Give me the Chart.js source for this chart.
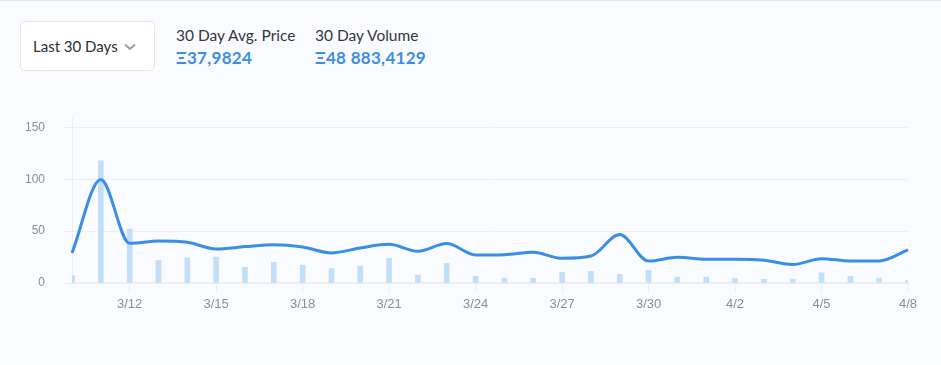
<!DOCTYPE html>
<html>
<head>
<meta charset="utf-8">
<script src="https://cdn.jsdelivr.net/npm/chart.js@4"></script>
<style>
  html, body { margin: 0; padding: 0; }
  body {
    width: 941px; height: 365px; overflow: hidden; position: relative;
    background: #fafbfe; font-family: Lato, "Open Sans", sans-serif;
    border-top: 1px solid #e3e5e9; box-sizing: border-box;
  }
  .range {
    position: absolute; left: 20px; top: 20px; width: 135px; height: 50px;
    background: #fff; border: 1px solid #e3e6ea; border-radius: 5px;
    font-size: 15px; color: #2b2f36; box-sizing: border-box;
  }
  .range span { position: absolute; left: 12px; top: 15px; }
  .range svg { position: absolute; left: 103px; top: 21px; }
  .stat { position: absolute; top: 25px; }
  .stat .lbl { font-size: 15.5px; color: #33363c; }
  .stat .val { font-size: 17px; font-weight: 700; color: #3b8ee6; margin-top: 3px; letter-spacing: 0.3px; }
  #wrap { position: absolute; left: 0; top: 92px; width: 941px; height: 230px; }
</style>
</head>
<body>
<div class="range"><span>Last 30 Days</span>
  <svg width="12" height="8" viewBox="0 0 12 8"><path d="M1 1.5 L6 6 L11 1.5" fill="none" stroke="#9a9ea5" stroke-width="2"/></svg>
</div>
<div class="stat" style="left:176px"><div class="lbl">30 Day Avg. Price</div><div class="val">Ξ37,9824</div></div>
<div class="stat" style="left:315px"><div class="lbl">30 Day Volume</div><div class="val">Ξ48 883,4129</div></div>
<div id="wrap"><canvas id="chart"></canvas></div>

<script>
// days shown on the x axis (3/10 .. 4/8)
const days = ["3/10", "3/11", "3/12", "3/13", "3/14", "3/15", "3/16", "3/17", "3/18", "3/19",
  "3/20", "3/21", "3/22", "3/23", "3/24", "3/25", "3/26", "3/27", "3/28", "3/29",
  "3/30", "3/31", "4/1", "4/2", "4/3", "4/4", "4/5", "4/6", "4/7", "4/8"];

// average price per day (line)
const avgPrice = [29, 99.8, 38.3, 40.5, 39.3, 32.8, 35.1, 37, 34.7, 29,
  33.8, 37.3, 30.6, 38, 27, 27.3, 29.6, 23.8, 26, 46.7,
  21.2, 24.8, 22.9, 22.9, 21.9, 17.8, 23.5, 21.2, 21.2, 31.9];

// volume per day (bars)
const volume = [7.1, 117.8, 52.1, 21.6, 24.2, 25.1, 15.2, 20, 17.4, 13.9,
  16.1, 23.8, 7.7, 19, 6.4, 4.8, 4.5, 10.3, 11.3, 8.4,
  12.3, 5.8, 5.8, 4.2, 3.6, 3.9, 9.7, 6.4, 4.8, 2.6];

const yTicks = [0, 50, 100, 150];

const gridColor = "#eceef2";
const tickColor = "#8b8f96";

let ctx = document.getElementById("chart").getContext("2d");
let chart = new Chart(ctx, {
  data: {
    labels: days,
    datasets: [
      {
        type: "line",
        label: "Avg. Price",
        data: avgPrice,
        borderColor: "#3a8ee6",
        borderWidth: 3,
        cubicInterpolationMode: "monotone",
        pointRadius: 0,
        fill: false,
        order: 0,
      },
      {
        type: "bar",
        label: "Volume",
        data: volume,
        backgroundColor: "#c3def7",
        barThickness: 5,
        order: 1,
      },
    ],
  },
  options: {
    responsive: true,
    maintainAspectRatio: false,
    animation: false,
    layout: { padding: { top: 8, right: 33, left: 0, bottom: 0 } },
    plugins: { legend: { display: false }, tooltip: { enabled: false } },
    scales: {
      x: {
        offset: false,
        grid: {
          offset: false,
          drawOnChartArea: false,
          tickLength: 10,
          color: gridColor,
        },
        border: { color: gridColor, width: 2 },
        ticks: {
          autoSkip: false,
          maxRotation: 0,
          padding: 4,
          color: tickColor,
          font: { family: "'Liberation Sans', Arial", size: 13 },
          callback: function (value, index) {
            return (index - 2) % 3 === 0 ? days[index] : null;
          },
        },
        afterFit: function (scale) { scale.height = 40; },
      },
      y: {
        min: 0,
        max: 159,
        grid: { color: gridColor, tickLength: 9 },
        border: { color: gridColor, width: 1 },
        ticks: {
          padding: 18,
          color: tickColor,
          font: { family: "'Liberation Sans', Arial", size: 12 },
        },
        afterBuildTicks: function (scale) {
          scale.ticks = yTicks.map(v => ({ value: v }));
        },
        afterFit: function (scale) { scale.width = 72; },
      },
    },
  },
});
</script>
</body>
</html>
